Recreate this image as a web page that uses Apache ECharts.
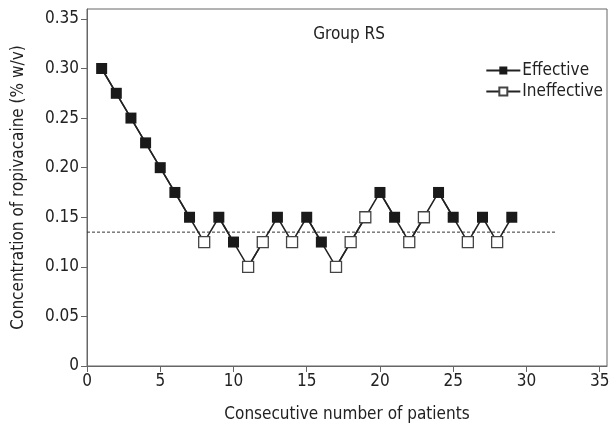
<!DOCTYPE html>
<html>
<head>
<meta charset="utf-8">
<script src="https://cdn.jsdelivr.net/npm/echarts@6/dist/echarts.min.js"></script>
<style>
  html, body { margin: 0; padding: 0; background: #fff; }
  #chart { width: 616px; height: 433px; }
</style>
</head>
<body>
<div id="chart"></div>
<script>
const FONT = "'Liberation Sans Narrow', 'DejaVu Sans Condensed', sans-serif"
// 数据
const patients = [1, 2, 3, 4, 5, 6, 7, 8, 9, 10, 11, 12, 13, 14, 15, 16, 17, 18, 19, 20, 21, 22, 23, 24, 25, 26, 27, 28, 29]
const concentration = [0.3, 0.275, 0.25, 0.225, 0.2, 0.175, 0.15, 0.125, 0.15, 0.125, 0.1, 0.125, 0.15, 0.125, 0.15,
  0.125, 0.1, 0.125, 0.15, 0.175, 0.15, 0.125, 0.15, 0.175, 0.15, 0.125, 0.15, 0.125, 0.15]
// E = effective, I = ineffective
const outcome = ['E', 'E', 'E', 'E', 'E', 'E', 'E', 'I', 'E', 'E', 'I', 'I', 'E', 'I', 'E',
  'E', 'I', 'I', 'I', 'E', 'E', 'I', 'I', 'E', 'E', 'I', 'E', 'I', 'E']
const xTicks = [0, 5, 10, 15, 20, 25, 30, 35]
const yTicks = [0, 0.05, 0.1, 0.15, 0.2, 0.25, 0.3, 0.35]
const cutoffX = [0, 32]
const cutoffValue = 0.135

const pts = patients.map((p, i) => [p, concentration[i]])
const pick = (flag) => pts.map((d, i) => (outcome[i] === flag ? d : [d[0], null]))

const lineColor = '#222'
const axisColor = '#666'

const option = {
  animation: false,
  grid: { left: 87, right: 9, top: 9, bottom: 67, show: true, borderColor: axisColor, borderWidth: 1 },
  title: {
    text: 'Group RS',
    left: 344,
    top: 21,
    textAlign: 'center',
    textStyle: { fontFamily: FONT, fontSize: 17, fontWeight: 'normal', color: '#222' },
  },
  legend: {
    orient: 'vertical',
    right: 8,
    top: 57,
    itemWidth: 34,
    itemHeight: 10,
    itemGap: 4,
    data: ['Effective', 'Ineffective'],
    textStyle: { fontFamily: FONT, fontSize: 17, color: '#222', padding: [0, 0, 0, -3] },
  },
  xAxis: {
    type: 'value',
    min: 0,
    max: 35.5,
    name: 'Consecutive number of patients',
    nameLocation: 'middle',
    nameGap: 40,
    nameTextStyle: { fontFamily: FONT, fontSize: 17, color: '#222' },
    axisLine: { lineStyle: { color: axisColor } },
    axisTick: { customValues: xTicks, length: 6, lineStyle: { color: axisColor } },
    axisLabel: { customValues: xTicks, fontFamily: FONT, fontSize: 17, color: '#222', margin: 7 },
    splitLine: { show: false },
  },
  yAxis: {
    type: 'value',
    min: 0,
    max: 0.36,
    name: 'Concentration of ropivacaine (% w/v)',
    nameLocation: 'middle',
    nameGap: 60,
    nameTextStyle: { fontFamily: FONT, fontSize: 17, color: '#222' },
    axisLine: { show: true, lineStyle: { color: axisColor } },
    axisTick: { show: true, customValues: yTicks, length: 6, lineStyle: { color: axisColor } },
    axisLabel: {
      customValues: yTicks,
      fontFamily: FONT,
      fontSize: 17,
      color: '#222',
      margin: 8,
      formatter: (v) => (v === 0 ? '0' : v.toFixed(2)),
    },
    splitLine: { show: false },
  },
  series: [
    {
      name: 'cutoff',
      type: 'line',
      data: cutoffX.map((x) => [x, cutoffValue]),
      symbol: 'none',
      lineStyle: { color: '#333', width: 1, type: [3, 2] },
      z: 1,
    },
    {
      name: 'path',
      type: 'line',
      data: pts,
      symbol: 'none',
      lineStyle: { color: lineColor, width: 1.5 },
      z: 2,
    },
    {
      name: 'Effective',
      type: 'line',
      data: pick('E'),
      connectNulls: false,
      symbol: 'rect',
      symbolSize: 11,
      itemStyle: { color: '#1a1a1a', borderColor: '#1a1a1a', borderWidth: 0 },
      lineStyle: { color: lineColor, width: 1.5 },
      z: 3,
    },
    {
      name: 'Ineffective',
      type: 'line',
      data: pick('I'),
      connectNulls: false,
      symbol: 'rect',
      symbolSize: 11,
      itemStyle: { color: '#fff', borderColor: '#444', borderWidth: 1.3 },
      lineStyle: { color: lineColor, width: 1.5 },
      z: 4,
    },
  ],
}

const myChart = echarts.init(document.getElementById('chart'))
myChart.setOption(option)
</script>
</body>
</html>
